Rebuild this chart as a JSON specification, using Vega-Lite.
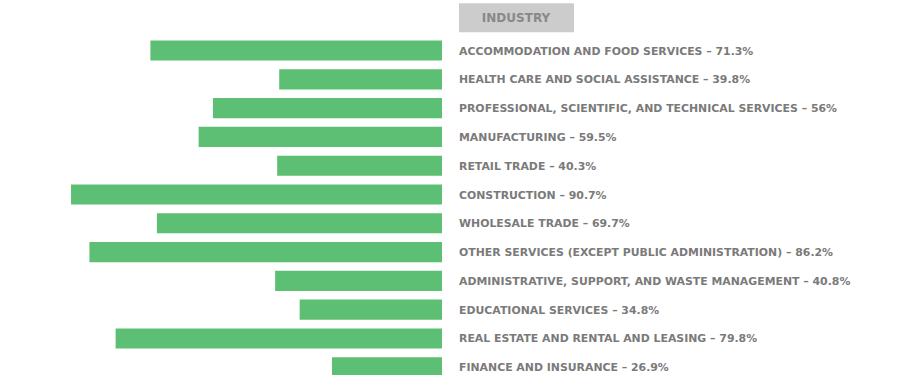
{
  "$schema": "https://vega.github.io/schema/vega-lite/v6.json",
  "width": 900,
  "height": 389,
  "autosize": "none",
  "padding": 0,
  "background": "white",
  "config": {"view": {"stroke": null}},
  "datasets": {
    "rows": [
      {"industry": "ACCOMMODATION AND FOOD SERVICES", "pct": 71.3, "label": "ACCOMMODATION AND FOOD SERVICES – 71.3%"},
      {"industry": "HEALTH CARE AND SOCIAL ASSISTANCE", "pct": 39.8, "label": "HEALTH CARE AND SOCIAL ASSISTANCE – 39.8%"},
      {"industry": "PROFESSIONAL, SCIENTIFIC, AND TECHNICAL SERVICES", "pct": 56, "label": "PROFESSIONAL, SCIENTIFIC, AND TECHNICAL SERVICES – 56%"},
      {"industry": "MANUFACTURING", "pct": 59.5, "label": "MANUFACTURING – 59.5%"},
      {"industry": "RETAIL TRADE", "pct": 40.3, "label": "RETAIL TRADE – 40.3%"},
      {"industry": "CONSTRUCTION", "pct": 90.7, "label": "CONSTRUCTION – 90.7%"},
      {"industry": "WHOLESALE TRADE", "pct": 69.7, "label": "WHOLESALE TRADE – 69.7%"},
      {"industry": "OTHER SERVICES (EXCEPT PUBLIC ADMINISTRATION)", "pct": 86.2, "label": "OTHER SERVICES (EXCEPT PUBLIC ADMINISTRATION) – 86.2%"},
      {"industry": "ADMINISTRATIVE, SUPPORT, AND WASTE MANAGEMENT", "pct": 40.8, "label": "ADMINISTRATIVE, SUPPORT, AND WASTE MANAGEMENT – 40.8%"},
      {"industry": "EDUCATIONAL SERVICES", "pct": 34.8, "label": "EDUCATIONAL SERVICES – 34.8%"},
      {"industry": "REAL ESTATE AND RENTAL AND LEASING", "pct": 79.8, "label": "REAL ESTATE AND RENTAL AND LEASING – 79.8%"},
      {"industry": "FINANCE AND INSURANCE", "pct": 26.9, "label": "FINANCE AND INSURANCE – 26.9%"}
    ],
    "header": [{"industry": "INDUSTRY"}]
  },
  "encoding": {
    "y": {
      "field": "industry",
      "type": "nominal",
      "sort": null,
      "axis": null,
      "scale": {
        "domain": ["INDUSTRY", "ACCOMMODATION AND FOOD SERVICES", "HEALTH CARE AND SOCIAL ASSISTANCE", "PROFESSIONAL, SCIENTIFIC, AND TECHNICAL SERVICES", "MANUFACTURING", "RETAIL TRADE", "CONSTRUCTION", "WHOLESALE TRADE", "OTHER SERVICES (EXCEPT PUBLIC ADMINISTRATION)", "ADMINISTRATIVE, SUPPORT, AND WASTE MANAGEMENT", "EDUCATIONAL SERVICES", "REAL ESTATE AND RENTAL AND LEASING", "FINANCE AND INSURANCE"],
        "paddingInner": 0.3,
        "paddingOuter": 0.405
      }
    }
  },
  "layer": [
    {
      "data": {"name": "rows"},
      "mark": {"type": "bar", "color": "#5dbf74"},
      "encoding": {
        "x": {"field": "pct", "type": "quantitative", "axis": null, "scale": {"domain": [0, 100], "range": [442, 33]}}
      }
    },
    {
      "data": {"name": "rows"},
      "mark": {"type": "text", "align": "left", "baseline": "middle", "dx": 17, "dy": 1, "font": "DejaVu Sans", "fontWeight": "bold", "fontSize": 10.9, "color": "#7a7a7a"},
      "encoding": {
        "x": {"datum": 0, "type": "quantitative"},
        "text": {"field": "label"}
      }
    },
    {
      "data": {"name": "header"},
      "mark": {"type": "point", "shape": "M-1,-0.252H1V0.252H-1Z", "filled": true, "color": "#cccccc", "opacity": 1, "size": 13225, "xOffset": 74.5, "yOffset": -4},
      "encoding": {
        "x": {"datum": 0, "type": "quantitative"}
      }
    },
    {
      "data": {"name": "header"},
      "mark": {"type": "text", "align": "center", "baseline": "middle", "dx": 74, "dy": -4, "font": "DejaVu Sans", "fontWeight": "bold", "fontSize": 12, "color": "#888888"},
      "encoding": {
        "x": {"datum": 0, "type": "quantitative"},
        "text": {"field": "industry"}
      }
    }
  ]
}
